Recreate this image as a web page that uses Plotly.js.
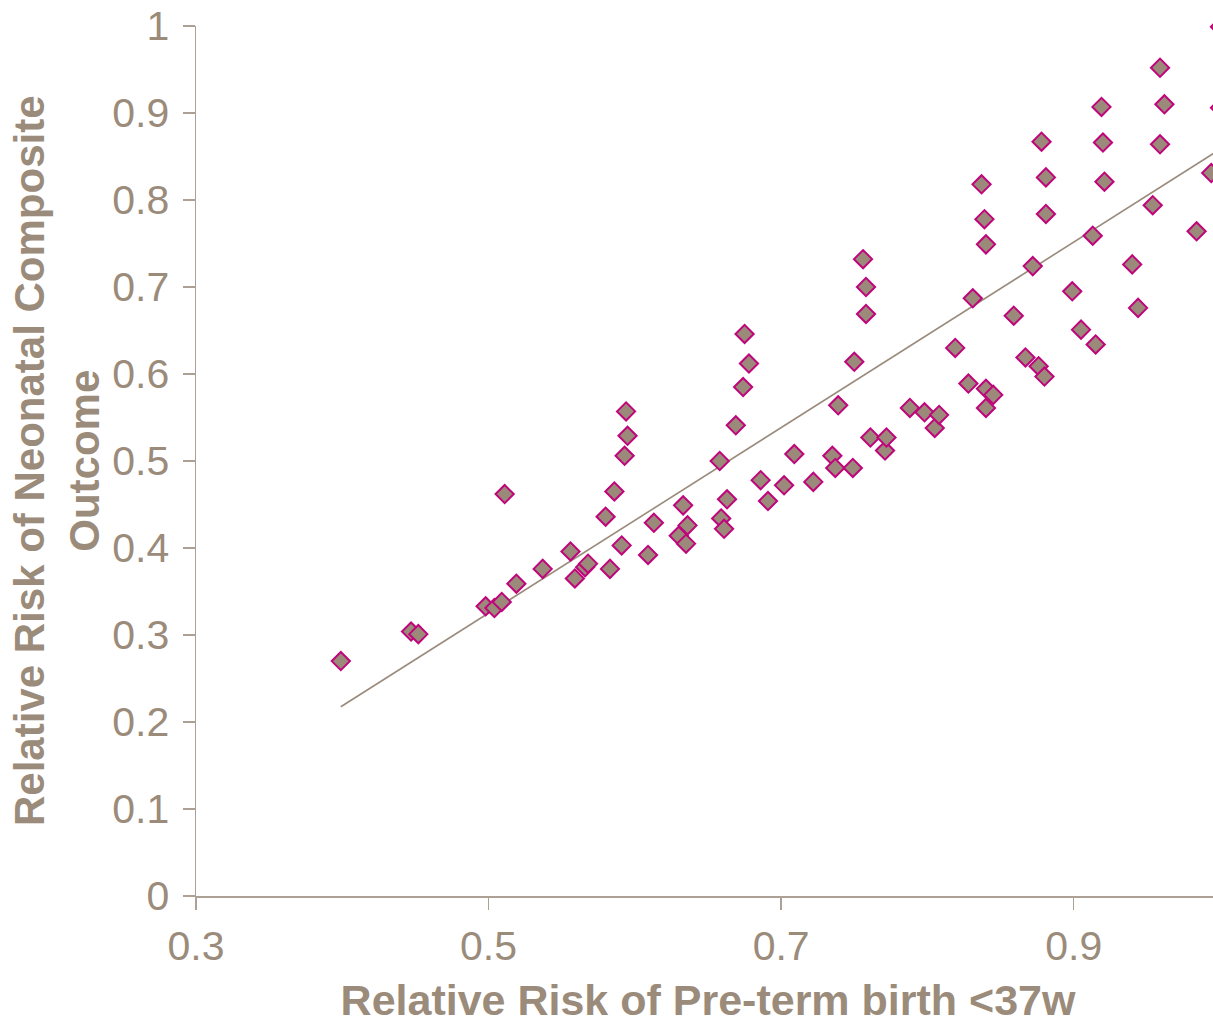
<!DOCTYPE html>
<html>
<head>
<meta charset="utf-8">
<script src="https://cdn.plot.ly/plotly-3.0.1.min.js"></script>
<style>
html,body{margin:0;padding:0;overflow:hidden;background:#fff;}
#chart{width:1240px;height:1024px;}
</style>
</head>
<body>
<div id="chart"></div>
<script>
// Relative Risk of Pre-term birth <37w
const rrPreterm = [0.399,0.447,0.452,0.498,0.504,0.509,0.511,0.519,0.537,0.556,0.559,0.566,0.568,0.580,0.583,0.586,0.591,0.593,0.594,0.595,
0.609,0.613,0.630,0.633,0.635,0.636,0.658,0.659,0.661,0.663,0.669,0.674,0.675,0.678,0.686,0.691,0.702,0.709,0.722,0.735,
0.737,0.739,0.749,0.750,0.756,0.758,0.758,0.761,0.771,0.772,0.788,0.798,0.805,0.808,0.819,0.828,0.831,0.837,0.839,0.840,
0.840,0.840,0.845,0.859,0.867,0.872,0.876,0.878,0.881,0.881,0.880,0.899,0.905,0.913,0.915,0.919,0.920,0.921,0.940,0.944,
0.954,0.959,0.959,0.962,0.984,0.994,1.000,1.000];
// Relative Risk of Neonatal Composite Outcome
const rrNeonatal = [0.270,0.304,0.301,0.333,0.331,0.338,0.462,0.359,0.376,0.396,0.365,0.378,0.382,0.436,0.376,0.465,0.403,0.506,0.557,0.529,
0.392,0.429,0.414,0.449,0.405,0.426,0.500,0.434,0.422,0.456,0.541,0.585,0.646,0.612,0.478,0.454,0.472,0.508,0.476,0.506,
0.492,0.564,0.492,0.614,0.732,0.700,0.669,0.527,0.512,0.527,0.561,0.556,0.538,0.553,0.630,0.589,0.687,0.818,0.778,0.749,
0.583,0.561,0.576,0.667,0.619,0.724,0.609,0.867,0.826,0.784,0.597,0.695,0.651,0.759,0.634,0.907,0.866,0.821,0.726,0.676,
0.794,0.864,0.952,0.910,0.764,0.831,0.999,0.906];

// linear trend line coefficients
const trendSlope = 1.066;
const trendIntercept = -0.2078;

const xTickVals = [0.3,0.5,0.7,0.9];
const xTickText = ['0.3','0.5','0.7','0.9'];
const yTickVals = [0,0.1,0.2,0.3,0.4,0.5,0.6,0.7,0.8,0.9,1];
const yTickText = ['0','0.1','0.2','0.3','0.4','0.5','0.6','0.7','0.8','0.9','1'];
const xTitle = 'Relative Risk of Pre-term birth <37w';
const yTitleLines = ['Relative Risk of Neonatal Composite','Outcome'];

const xmin=Math.min(...rrPreterm), xmax=Math.max(...rrPreterm);
const trendX=[xmin,xmax];
const trendY=trendX.map(v=>trendIntercept+trendSlope*v);

const esc=s=>s.replace(/&/g,'&amp;').replace(/</g,'&lt;').replace(/>/g,'&gt;');
const txt='#9b8b7b';
const axc='#ada195';
const font='"Liberation Sans", Arial, sans-serif';

const data=[
 {x:trendX,y:trendY,type:'scatter',mode:'lines',line:{color:'#9a8a7b',width:1.6},hoverinfo:'skip',showlegend:false},
 {x:rrPreterm,y:rrNeonatal,type:'scatter',mode:'markers',cliponaxis:false,
  marker:{symbol:'diamond',size:14,color:'#9b8a7a',line:{color:'#c0057c',width:2}},showlegend:false}
];
const layout={
 width:1240,height:1024,
 margin:{l:196,r:20,t:26,b:128},
 paper_bgcolor:'#fff',plot_bgcolor:'#fff',
 font:{family:font,color:txt},
 showlegend:false,
 xaxis:{range:[0.3,1.0],tickvals:xTickVals,ticktext:xTickText,showgrid:false,zeroline:false,
  showline:true,linecolor:axc,linewidth:1.5,ticks:'outside',ticklen:12,tickwidth:1.5,tickcolor:axc,
  tickfont:{size:41,color:txt,family:font},ticklabelstandoff:1,
  title:{text:'<b>'+esc(xTitle)+'</b>',font:{size:43,color:txt,family:font},standoff:27}},
 yaxis:{range:[0,1],tickvals:yTickVals,ticktext:yTickText,showgrid:false,zeroline:false,
  showline:true,linecolor:axc,linewidth:1.5,ticks:'outside',ticklen:12,tickwidth:1.5,tickcolor:axc,
  tickfont:{size:41,color:txt,family:font},ticklabelstandoff:5,
  title:{text:''}},
 annotations:[{
  xref:'paper',yref:'paper',x:0,y:0.5,xanchor:'center',yanchor:'middle',xshift:-139,
  textangle:-90,showarrow:false,
  text:'<b>'+yTitleLines.map(esc).join('<br>')+'</b>',
  font:{size:42,color:txt,family:font}
 }]
};
Plotly.newPlot('chart',data,layout,{displayModeBar:false,staticPlot:true});
</script>
</body>
</html>
